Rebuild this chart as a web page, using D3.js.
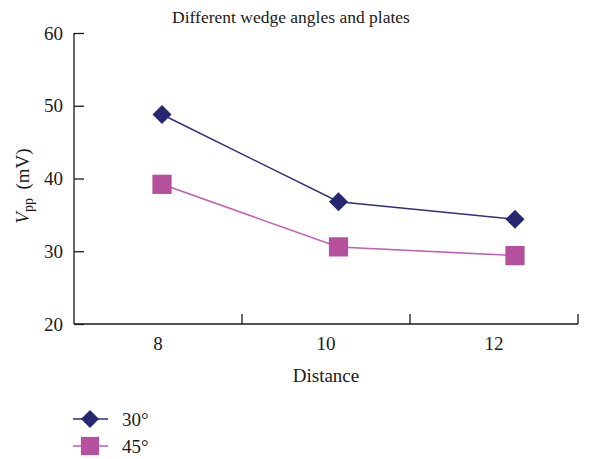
<!DOCTYPE html>
<html>
<head>
<meta charset="utf-8">
<script src="https://cdn.jsdelivr.net/npm/d3@7"></script>
<style>
  body { margin: 0; background: #fff; }
  text { font-family: "Liberation Serif", "DejaVu Serif", serif; fill: #1a1a1a; }
</style>
</head>
<body>
<div id="chart"></div>
<script>
const distances = [8, 10, 12]
const angles = ['30°', '45°']
const vpp30 = [48.8, 36.8, 34.4]
const vpp45 = [39.2, 30.6, 29.4]
const yTicks = [20, 30, 40, 50, 60]

const colors = { '30°': '#262671', '45°': '#b4509c' }
const lineColors = { '30°': '#2e2e7a', '45°': '#c45db3' }

const width = 608
const height = 459
const margin = { top: 33, right: 30, bottom: 135, left: 74 }
const plotW = 578 - margin.left
const plotH = 324 - margin.top

const svg = d3.select('#chart').append('svg')
    .attr('width', width)
    .attr('height', height)

const g = svg.append('g')
    .attr('transform', `translate(${margin.left},${margin.top})`)

// category axis (labels in band centres)
const xBand = d3.scaleBand()
  .domain(distances)
  .range([0, plotW])

// the markers sit a little right of the band centres in the original
const xPoint = d3.scaleLinear()
  .domain([8, 12])
  .range([88, 441])

const y = d3.scaleLinear()
  .domain([20, 60])
  .range([plotH, 0])

// y-axis
const yAxis = g.append('g')
    .call(d3.axisLeft(y).tickValues(yTicks).tickSize(-10).tickPadding(11))
yAxis.select('.domain').attr('d', `M0,0V${plotH}`)
yAxis.selectAll('line, path').attr('stroke', '#1a1a1a').attr('stroke-width', 1.3)
yAxis.selectAll('text').attr('font-size', 19).attr('font-family', 'Liberation Serif')

// x-axis
const xAxis = g.append('g')
    .attr('transform', `translate(0,${plotH})`)
    .call(d3.axisBottom(xBand).tickSize(0).tickPadding(13))
xAxis.select('.domain').attr('d', `M0,0H${plotW}`)
xAxis.selectAll('line, path').attr('stroke', '#1a1a1a').attr('stroke-width', 1.3)
xAxis.selectAll('text').attr('font-size', 19).attr('font-family', 'Liberation Serif')

// inner tick marks between categories
xAxis.selectAll('.sep')
  .data(distances)
  .enter().append('line')
    .attr('x1', d => xBand(d) + xBand.bandwidth())
    .attr('x2', d => xBand(d) + xBand.bandwidth())
    .attr('y1', 0)
    .attr('y2', -10)
    .attr('stroke', '#1a1a1a')
    .attr('stroke-width', 1.3)

const series = [
  { name: angles[0], values: vpp30, shape: d3.symbolDiamond2, size: 230 },
  { name: angles[1], values: vpp45, shape: d3.symbolSquare, size: 370 }
]

const line = d3.line()
  .x((d, i) => xPoint(distances[i]))
  .y(d => y(d))

series.forEach(s => {
  g.append('path')
    .attr('d', line(s.values))
    .attr('fill', 'none')
    .attr('stroke', lineColors[s.name])
    .attr('stroke-width', 1.5)

  g.selectAll(null)
    .data(s.values)
    .enter().append('path')
      .attr('d', d3.symbol().type(s.shape).size(s.size))
      .attr('transform', (d, i) => `translate(${xPoint(distances[i])},${y(d)})`)
      .attr('fill', colors[s.name])
})

// title
svg.append('text')
    .attr('x', 291)
    .attr('y', 23)
    .attr('text-anchor', 'middle')
    .attr('font-size', 17.5)
    .text('Different wedge angles and plates')

// x title
svg.append('text')
    .attr('x', 326)
    .attr('y', 382)
    .attr('text-anchor', 'middle')
    .attr('font-size', 19)
    .text('Distance')

// y title
const yt = svg.append('text')
    .attr('transform', 'translate(29,186) rotate(-90)')
    .attr('text-anchor', 'middle')
    .attr('font-size', 19)
yt.append('tspan').attr('font-style', 'italic').text('V')
yt.append('tspan').attr('font-size', 14).attr('dy', 4).text('pp')
yt.append('tspan').attr('dy', -4).text('\u2009 (mV)')

// legend
const legend = svg.append('g')
series.forEach((s, i) => {
  const ly = 419 + i * 27
  legend.append('line')
    .attr('x1', 73).attr('x2', 108)
    .attr('y1', ly).attr('y2', ly)
    .attr('stroke', lineColors[s.name])
    .attr('stroke-width', 1.5)
  legend.append('path')
    .attr('d', d3.symbol().type(s.shape).size(s.size * 0.9))
    .attr('transform', `translate(90,${ly})`)
    .attr('fill', colors[s.name])
  legend.append('text')
    .attr('x', 122)
    .attr('y', ly + 7)
    .attr('font-size', 19)
    .text(s.name)
})
</script>
</body>
</html>
